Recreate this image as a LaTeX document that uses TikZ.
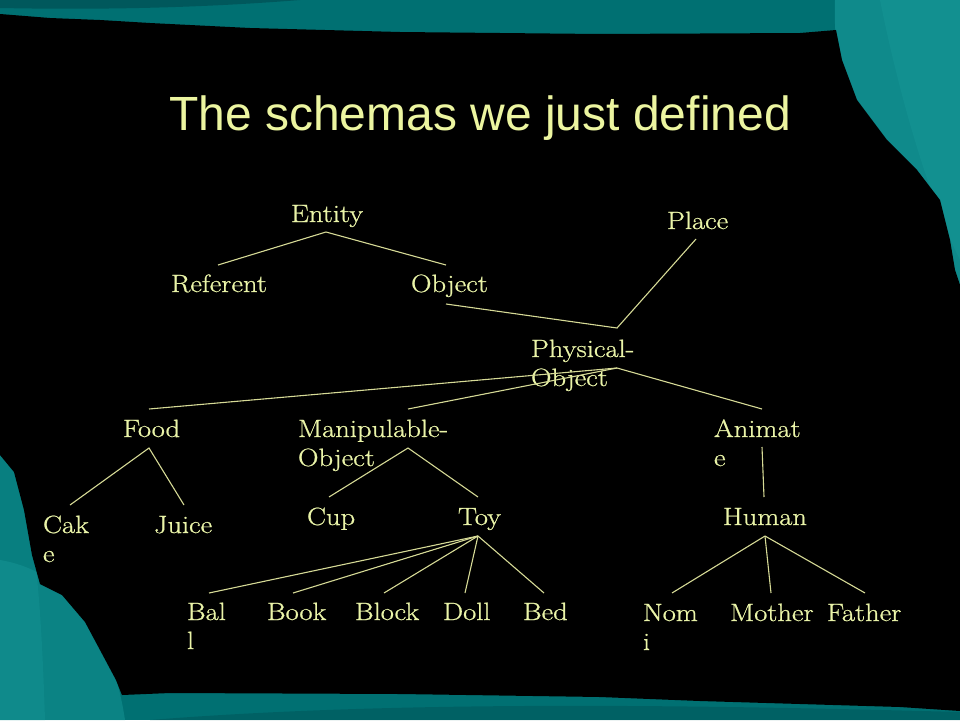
\documentclass[tikz,border=0pt]{standalone}
\usepackage{fontspec}
\newfontfamily\titlefont{Liberation Sans}
\newfontfamily\nodefont[FakeStretch=1.14,FakeBold=0.8]{Latin Modern Roman}
\definecolor{tealbase}{RGB}{0,112,114}
\definecolor{teallight}{RGB}{22,150,150}
\definecolor{tealdark}{RGB}{0,88,92}
\definecolor{titlecol}{RGB}{236,245,160}
\definecolor{nodecol}{RGB}{234,244,168}
\definecolor{linecol}{RGB}{214,218,150}
\tikzset{
  lbl/.style={anchor=base west, inner sep=0pt, outer sep=0pt, text=nodecol,
    font=\nodefont\fontsize{25}{29}\selectfont},
  link/.style={draw=linecol, line width=1.1pt}
}
\newcommand{\twolines}[2]{\begin{tabular}[t]{@{}l@{}}#1\\#2\end{tabular}}
\begin{document}
\begin{tikzpicture}[x=1pt,y=-1pt]
\useasboundingbox (0,0) rectangle (960,720);
% frame
\fill[tealbase] (0,0) rectangle (960,720);
\fill[teallight, opacity=0.7] (835,0) .. controls (830,120) and (900,200) .. (960,300) -- (960,0) -- cycle;
\fill[teallight, opacity=0.5] (880,0) .. controls (900,100) and (930,200) .. (960,260) -- (960,0) -- cycle;
\fill[tealdark] (0,0) -- (300,0) .. controls (200,8) and (100,10) .. (0,8) -- cycle;
\fill[teallight, opacity=0.5] (0,560) .. controls (60,570) and (110,620) .. (125,720) -- (0,720) -- cycle;
\fill[teallight, opacity=0.4] (0,450) .. controls (30,480) and (40,560) .. (45,720) -- (0,720) -- cycle;
\fill[tealdark, opacity=0.6] (150,720) .. controls (400,700) and (700,705) .. (960,712) -- (960,720) -- cycle;
% black interior
\fill[black] (0,14) -- (50,18) -- (100,20) -- (150,23) -- (250,28) -- (400,32) -- (600,34)
  -- (800,33) -- (836,30) -- (842,60) -- (857,100) -- (887,140) -- (917,170) -- (940,200)
  -- (950,240) -- (955,270) -- (960,285) -- (960,711) -- (900,707) -- (700,701) -- (600,697)
  -- (400,694) -- (170,693) -- (122,695) -- (116,680) -- (100,650) -- (85,622) -- (62,595)
  -- (40,584) -- (32,555) -- (24,510) -- (14,472) -- (0,455) -- cycle;
% title
\node[text=titlecol, font=\titlefont\fontsize{48}{50}\selectfont, anchor=base, inner sep=0pt]
  (title) at (480,130) {The schemas we just defined};
% nodes
\node[lbl] (Entity) at (291,222) {Entity};
\node[lbl] (Place) at (667,229) {Place};
\node[lbl] (Referent) at (171,292) {Referent};
\node[lbl] (Object) at (411,292) {Object};
\node[lbl] (Physical) at (531,357) {\twolines{Physical-}{Object}};
\node[lbl] (Food) at (123,437) {Food};
\node[lbl] (Manip) at (298,437) {\twolines{Manipulable-}{Object}};
\node[lbl] (Animate) at (714,437) {\twolines{Animat}{e}};
\node[lbl] (Cake) at (43,533) {\twolines{Cak}{e}};
\node[lbl] (Juice) at (154,533) {Juice};
\node[lbl] (Cup) at (307,525) {Cup};
\node[lbl] (Toy) at (458,525) {Toy};
\node[lbl] (Human) at (723,525) {Human};
\node[lbl] (Ball) at (187,620) {\twolines{Bal}{l}};
\node[lbl] (Book) at (267,620) {Book};
\node[lbl] (Block) at (355,620) {Block};
\node[lbl] (Doll) at (443,620) {Doll};
\node[lbl] (Bed) at (523,620) {Bed};
\node[lbl] (Nomi) at (643,621) {\twolines{Nom}{i}};
\node[lbl] (Mother) at (730,621) {Mother};
\node[lbl] (Father) at (827,621) {Father};
% connector end points
\coordinate (ent-b) at (326,232);
\coordinate (ref-t) at (218,265);
\coordinate (obj-t) at (446,265);
\coordinate (obj-b) at (446,304);
\coordinate (phy-t) at (617,328);
\coordinate (pla-b) at (696,239);
\coordinate (phy-b) at (617,368);
\coordinate (foo-t) at (149,409);
\coordinate (man-t) at (408,409);
\coordinate (ani-t) at (762,409);
\coordinate (foo-b) at (149,448);
\coordinate (cak-t) at (70,505);
\coordinate (jui-t) at (184,505);
\coordinate (man-b) at (408,448);
\coordinate (cup-t) at (329,497);
\coordinate (toy-t) at (478,497);
\coordinate (ani-b) at (762,447);
\coordinate (hum-t) at (764,497);
\coordinate (toy-b) at (478,536);
\coordinate (bal-t) at (209,593);
\coordinate (boo-t) at (293,593);
\coordinate (blo-t) at (384,593);
\coordinate (dol-t) at (465,593);
\coordinate (bed-t) at (544,593);
\coordinate (hum-b) at (765,536);
\coordinate (nom-t) at (672,593);
\coordinate (mot-t) at (771,593);
\coordinate (fat-t) at (865,593);
% connectors
\draw[link] (ref-t) -- (ent-b) -- (obj-t);
\draw[link] (obj-b) -- (phy-t) -- (pla-b);
\draw[link] (phy-b) -- (foo-t);
\draw[link] (phy-b) -- (man-t);
\draw[link] (phy-b) -- (ani-t);
\draw[link] (cak-t) -- (foo-b) -- (jui-t);
\draw[link] (cup-t) -- (man-b) -- (toy-t);
\draw[link] (ani-b) -- (hum-t);
\foreach \c in {bal-t,boo-t,blo-t,dol-t,bed-t} \draw[link] (toy-b) -- (\c);
\foreach \c in {nom-t,mot-t,fat-t} \draw[link] (hum-b) -- (\c);
\end{tikzpicture}
\end{document}
